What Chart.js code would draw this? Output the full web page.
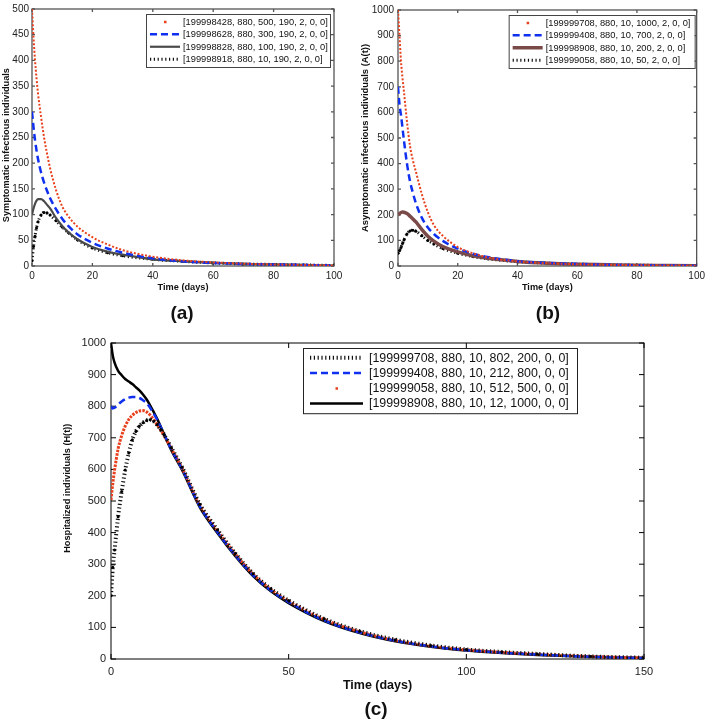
<!DOCTYPE html>
<html>
<head>
<meta charset="utf-8">
<script src="https://cdn.jsdelivr.net/npm/chart.js@4"></script>
<style>
  body { margin: 0; background: #fff; width: 709px; height: 720px; position: relative; overflow: hidden;
         font-family: "Liberation Sans", Arial, sans-serif; }
  canvas { position: absolute; }
  .tag { position: absolute; font-weight: bold; font-size: 19px; color: #111; transform: translate(-50%, -50%); }
</style>
</head>
<body>
<canvas id="chartA" width="354" height="298" style="left:0;top:0"></canvas>
<canvas id="chartB" width="355" height="298" style="left:354px;top:0"></canvas>
<canvas id="chartC" width="709" height="400" style="left:0;top:320px"></canvas>
<div class="tag" style="left:182px;top:313px">(a)</div>
<div class="tag" style="left:548px;top:313px">(b)</div>
<div class="tag" style="left:376px;top:709px">(c)</div>
<script>
// ---- data ----
const aTime = [0, 0.5, 1, 1.5, 2, 3, 4, 5, 6, 8, 10, 12, 15, 20, 25, 30, 40, 50, 60, 70, 80, 90, 100];
const aI500 = [500, 445, 400, 365, 335, 290, 250, 218, 190, 147, 116, 97, 77, 56, 42, 31, 18, 11, 7, 4.5, 3, 2, 1];
const aI300 = [300, 270, 245, 225, 208, 182, 162, 146, 132, 110, 92, 78, 62, 45, 34, 26, 15, 9, 6, 4, 3, 2, 1];
const aI100 = [100, 112, 121, 127, 130, 130, 126, 119, 112, 93, 78, 66, 52, 37, 28, 22, 13, 9, 6, 4, 3, 2, 1];
const aI10  = [10, 38, 58, 74, 86, 99, 104, 103, 99, 88, 76, 65, 51, 35, 26, 20, 13, 9, 6, 4, 3, 2, 1];
const aLabels = ['[199998428, 880, 500, 190, 2, 0, 0]', '[199998628, 880, 300, 190, 2, 0, 0]',
                 '[199998828, 880, 100, 190, 2, 0, 0]', '[199998918, 880, 10, 190, 2, 0, 0]'];

const bTime = [0, 0.5, 1, 1.5, 2, 3, 4, 5, 6, 8, 10, 12, 15, 20, 25, 30, 40, 50, 60, 70, 80, 90, 100];
const bA1000 = [1000, 900, 800, 735, 680, 565, 470, 412, 368, 280, 210, 160, 118, 74, 50, 34, 18, 11, 7, 5, 3, 2, 1];
const bA700  = [700, 630, 590, 540, 490, 400, 332, 285, 245, 188, 150, 125, 98, 68, 48, 35, 19, 12, 8, 5, 3, 2, 1];
const bA200  = [200, 205, 209, 211, 210, 205, 195, 184, 172, 142, 116, 97, 76, 55, 40, 30, 18, 11, 7, 5, 3, 2, 1];
const bA50   = [50, 60, 72, 88, 102, 125, 137, 140, 136, 118, 100, 86, 68, 50, 37, 28, 17, 11, 7, 5, 3, 2, 1];
const bLabels = ['[199999708, 880, 10, 1000, 2, 0, 0]', '[199999408, 880, 10, 700, 2, 0, 0]',
                 '[199998908, 880, 10, 200, 2, 0, 0]', '[199999058, 880, 10, 50, 2, 0, 0]'];

const cTime = [0, 0.5, 1, 2, 3, 4, 5, 6, 7, 8, 9, 10, 11, 12, 13, 14, 15, 17, 20, 25, 30, 35, 40, 45, 50, 60, 70, 80, 90, 100, 110, 120, 135, 150];
const cH200  = [200, 290, 345, 450, 530, 598, 652, 694, 720, 737, 748, 755, 757, 752, 741, 726, 709, 668, 607, 490, 408, 334, 270, 222, 185, 127, 88, 61, 43, 30, 22, 16, 8, 4];
const cH800  = [800, 793, 795, 805, 815, 822, 827, 829, 829, 826, 819, 810, 795, 777, 757, 734, 710, 662, 601, 483, 401, 328, 265, 217, 180, 122, 84, 58, 40, 28, 20, 14, 7, 3];
const cH500  = [503, 555, 597, 665, 707, 737, 758, 771, 780, 785, 786, 782, 772, 758, 741, 724, 706, 665, 604, 487, 405, 332, 268, 220, 183, 125, 86, 59, 41, 29, 21, 15, 8, 3];
const cH1000 = [1000, 960, 938, 912, 898, 886, 878, 870, 860, 850, 837, 822, 803, 782, 760, 735, 710, 660, 598, 480, 398, 325, 262, 214, 177, 120, 82, 56, 39, 27, 19, 13, 7, 3];
const cLabels = ['[199999708, 880, 10, 802, 200, 0, 0]', '[199999408, 880, 10, 212, 800, 0, 0]',
                 '[199999058, 880, 10, 512, 500, 0, 0]', '[199998908, 880, 10, 12, 1000, 0, 0]'];

const RED = '#e8401c', BLUE = '#1030f0';
Chart.defaults.font.family = '"Liberation Sans", Arial, sans-serif';

const pts = (xs, ys) => xs.map((t, i) => ({ x: t, y: ys[i] }));
const nb = n => '\u00a0'.repeat(n);   // nudges a rotated axis title up (leading) or down (trailing)

// box round the plot with inward ticks on all four sides
const frameBox = {
  id: 'frameBox',
  beforeDatasetsDraw(chart, args, o) {
    const { ctx, chartArea: a, scales: { x, y } } = chart;
    ctx.save();
    ctx.strokeStyle = o.color;
    ctx.lineWidth = o.width;
    ctx.strokeRect(a.left, a.top, a.right - a.left, a.bottom - a.top);
    ctx.beginPath();
    x.ticks.forEach(t => {
      const p = x.getPixelForValue(t.value);
      ctx.moveTo(p, a.bottom); ctx.lineTo(p, a.bottom - o.tick);
      ctx.moveTo(p, a.top); ctx.lineTo(p, a.top + o.tick);
    });
    y.ticks.forEach(t => {
      const p = y.getPixelForValue(t.value);
      ctx.moveTo(a.left, p); ctx.lineTo(a.left + o.tick, p);
      ctx.moveTo(a.right, p); ctx.lineTo(a.right - o.tick, p);
    });
    ctx.stroke();
    ctx.restore();
  }
};

// legend box in the top right corner, matlab style
const boxLegend = {
  id: 'boxLegend',
  afterDatasetsDraw(chart, args, o) {
    const { ctx, chartArea: a } = chart;
    const ds = chart.data.datasets;
    const h = o.rowH * ds.length + o.padY * 2;
    const x0 = a.right - o.right - o.width, y0 = a.top + o.top;
    ctx.save();
    ctx.fillStyle = '#fff';
    ctx.fillRect(x0, y0, o.width, h);
    ctx.strokeStyle = o.border;
    ctx.lineWidth = 1;
    ctx.strokeRect(x0 + 0.5, y0 + 0.5, o.width, h);
    ctx.font = o.font;
    ctx.textBaseline = 'middle';
    ds.forEach((d, i) => {
      const cy = y0 + o.padY + o.rowH * (i + 0.5);
      const s0 = x0 + o.s0, s1 = x0 + o.s1;
      if (d.sample === 'dot') {
        ctx.fillStyle = d.borderColor;
        ctx.fillRect((s0 + s1) / 2 - 1, cy - 1, 2.5, 2.5);
      } else {
        ctx.strokeStyle = d.borderColor;
        ctx.lineWidth = d.borderWidth;
        ctx.setLineDash(d.borderDash || []);
        ctx.beginPath();
        ctx.moveTo(s0, cy);
        ctx.lineTo(s1, cy);
        ctx.stroke();
        ctx.setLineDash([]);
      }
      ctx.fillStyle = '#111';
      ctx.fillText(d.label, x0 + o.textX, cy + 0.5);
    });
    ctx.restore();
  }
};

function makeChart(id, o) {
  return new Chart(document.getElementById(id), {
    type: 'line',
    data: { datasets: o.datasets },
    options: {
      responsive: false,
      animation: false,
      events: [],
      layout: { padding: o.pad },
      elements: { point: { radius: 0 }, line: { cubicInterpolationMode: 'monotone' } },
      plugins: { legend: { display: false }, tooltip: { enabled: false }, frameBox: o.box, boxLegend: o.legend },
      scales: {
        x: {
          type: 'linear', min: 0, max: o.xMax,
          afterFit: s => { s.height = o.xH; },
          grid: { display: false, drawTicks: false }, border: { display: false },
          ticks: { stepSize: o.xStep, padding: o.xTickPad, color: '#222', font: { size: o.tickSize },
                   maxRotation: 0, autoSkip: false, callback: v => String(v) },
          title: { display: true, text: 'Time (days)', color: '#111', font: { size: o.xTitleSize, weight: 'bold' },
                   padding: { top: 0, bottom: o.xTitlePad } }
        },
        y: {
          min: 0, max: o.yMax,
          afterFit: s => { s.width = o.yW; },
          grid: { display: false, drawTicks: false }, border: { display: false },
          ticks: { stepSize: o.yStep, padding: o.yTickPad, color: '#222', font: { size: o.tickSize },
                   autoSkip: false, callback: v => String(v) },
          title: { display: true, text: o.yTitle, color: '#111', font: { size: o.yTitleSize, weight: 'bold' },
                   padding: { top: o.yTitlePad, bottom: 0 } }
        }
      }
    },
    plugins: [frameBox, boxLegend]
  });
}

const dotted = (label, xs, ys, w) => ({
  label, data: pts(xs, ys), borderColor: '#111', borderWidth: w, borderDash: [1.2, 2.6],
  pointRadius: 1.5, pointBackgroundColor: '#000', pointBorderWidth: 0
});
const redDots = (label, xs, ys, w, dash) => ({
  label, data: pts(xs, ys), borderColor: RED, borderWidth: w, borderDash: dash, sample: 'dot'
});
const dashed = (label, xs, ys, w) => ({
  label, data: pts(xs, ys), borderColor: BLUE, borderWidth: w, borderDash: [7, 4]
});
const solid = (label, xs, ys, w, color) => ({
  label, data: pts(xs, ys), borderColor: color, borderWidth: w
});

const smallLegend = { width: 184, padY: 1.5, rowH: 12.5, right: 4, top: 5, s0: 4, s1: 34, textX: 37,
                      font: '9.3px "Liberation Sans", Arial, sans-serif', border: '#444' };

makeChart('chartA', {
  datasets: [
    redDots(aLabels[0], aTime, aI500, 2, [2, 1.8]),
    dashed(aLabels[1], aTime, aI300, 2.5),
    solid(aLabels[2], aTime, aI100, 2.2, '#4a4a4a'),
    dotted(aLabels[3], aTime, aI10, 3)
  ],
  pad: { top: 4, right: 20, left: 0, bottom: 0 },
  xMax: 100, xStep: 20, yMax: 500, yStep: 50,
  xH: 32, yW: 32, xTickPad: 4, yTickPad: 3, tickSize: 10,
  xTitleSize: 9.2, xTitlePad: 5, yTitle: 'Symptomatic infectious individuals' + nb(6), yTitleSize: 9.2, yTitlePad: 0.5,
  box: { color: '#555', width: 1.3, tick: 3 },
  legend: smallLegend
});

makeChart('chartB', {
  datasets: [
    redDots(bLabels[0], bTime, bA1000, 2, [2, 1.8]),
    dashed(bLabels[1], bTime, bA700, 2.5),
    solid(bLabels[2], bTime, bA200, 3.5, '#7a4a48'),
    dotted(bLabels[3], bTime, bA50, 3)
  ],
  pad: { top: 4, right: 9, left: 0, bottom: 0 },
  xMax: 100, xStep: 20, yMax: 1000, yStep: 100,
  xH: 32, yW: 44, xTickPad: 4, yTickPad: 4, tickSize: 10,
  xTitleSize: 9.2, xTitlePad: 5, yTitle: 'Asymptomatic infectious individuals (A(t))', yTitleSize: 9.4, yTitlePad: 6,
  box: { color: '#555', width: 1.3, tick: 3 },
  legend: Object.assign({}, smallLegend, { width: 186, right: 2 })
});

makeChart('chartC', {
  datasets: [
    dotted(cLabels[0], cTime, cH200, 4),
    dashed(cLabels[1], cTime, cH800, 2.5),
    redDots(cLabels[2], cTime, cH500, 3, [2.5, 1.2]),
    solid(cLabels[3], cTime, cH1000, 2.5, '#000')
  ],
  pad: { top: 23, right: 65, left: 0, bottom: 0 },
  xMax: 150, xStep: 50, yMax: 1000, yStep: 100,
  xH: 61, yW: 111, xTickPad: 6, yTickPad: 5, tickSize: 11,
  xTitleSize: 12.5, xTitlePad: 27, yTitle: nb(10) + 'Hospitalized individuals (H(t))', yTitleSize: 9.2, yTitlePad: 62,
  box: { color: '#000', width: 1, tick: 5 },
  legend: { width: 274, padY: 2, rowH: 15.3, right: 67, top: 5, s0: 7, s1: 60, textX: 66,
            font: '12.4px "Liberation Sans", Arial, sans-serif', border: '#222' }
});
</script>
</body>
</html>
